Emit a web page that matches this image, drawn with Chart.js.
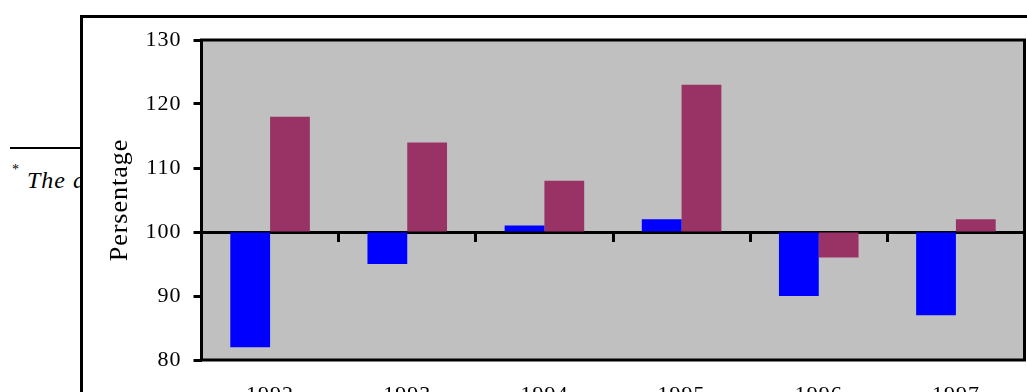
<!DOCTYPE html>
<html>
<head>
<meta charset="utf-8">
<script src="https://cdn.jsdelivr.net/npm/chart.js@4/dist/chart.umd.min.js"></script>
<style>
  html, body { margin: 0; padding: 0; background: #fff; width: 1027px; height: 392px; overflow: hidden; }
  #note-rule { position: absolute; left: 10px; top: 147px; width: 72px; height: 2px; background: #000; }
  #note-mark { position: absolute; left: 12px; top: 163px; font: 14px "Liberation Serif", serif; line-height: 14px; }
  #note-text { position: absolute; left: 27px; top: 168px; font: italic 24px "Liberation Serif", serif; line-height: 24px; letter-spacing: 1px; white-space: nowrap; }
  #frame { position: absolute; left: 80px; top: 15px; width: 1000px; height: 400px;
           border-left: 3px solid #000; border-top: 3px solid #000; background: #fff; z-index: 2; }
  #chart { position: absolute; left: 0; top: 0; }
</style>
</head>
<body>
<div id="note-rule"></div>
<div id="note-mark">*</div>
<div id="note-text">The data</div>
<div id="frame"><canvas id="chart" width="944" height="374"></canvas></div>
<script>
// Yearly values, drawn as bars that start from the 100 reference level
const categories = ['1992', '1993', '1994', '1995', '1996', '1997'];
const seriesA = [82, 95, 101, 102, 90, 87];
const seriesB = [118, 114, 108, 123, 96, 102];
const yTicks = [80, 90, 100, 110, 120, 130];
const baseLine = 100;

const serif = '"Liberation Serif", "Times New Roman", serif';

// Grey plot background and the black box around it
const plotFrame = {
  id: 'plotFrame',
  beforeDraw(chart) {
    const { ctx, chartArea: a } = chart;
    ctx.letterSpacing = '1px';
    ctx.save();
    ctx.fillStyle = '#C0C0C0';
    ctx.fillRect(a.left, a.top, a.right - a.left, a.bottom - a.top);
    ctx.restore();
  },
  afterDraw(chart) {
    const { ctx, chartArea: a } = chart;
    ctx.save();
    ctx.strokeStyle = '#000';
    ctx.lineWidth = 3;
    ctx.strokeRect(a.left, a.top, a.right - a.left, a.bottom - a.top);
    ctx.restore();
  }
};

new Chart(document.getElementById('chart'), {
  type: 'bar',
  data: {
    labels: categories,
    datasets: [
      { label: 'Series 1', data: seriesA, base: baseLine, backgroundColor: '#0000FF', borderWidth: 0 },
      { label: 'Series 2', data: seriesB, base: baseLine, backgroundColor: '#993366', borderWidth: 0 }
    ]
  },
  options: {
    responsive: false,
    devicePixelRatio: 1,
    animation: false,
    categoryPercentage: 0.58,
    barPercentage: 1.0,
    layout: { padding: { top: 22, right: 2.5, left: 0, bottom: 0 } },
    plugins: { legend: { display: false }, tooltip: { enabled: false } },
    scales: {
      x: {
        type: 'category',
        offset: true,
        grid: { display: false, drawTicks: false },
        border: { display: false },
        ticks: { color: '#000', font: { family: serif, size: 22 }, padding: 22, maxRotation: 0, autoSkip: false },
        afterFit(s) { s.height = 32; s.paddingLeft = 0; s.paddingRight = 0; }
      },
      // axis line crossing at 100, with category tick marks
      x2: {
        type: 'category',
        labels: categories,
        position: { y: baseLine },
        offset: true,
        z: 1,
        grid: { offset: true, drawOnChartArea: false, drawTicks: true, tickLength: 8, tickWidth: 3, color: '#000' },
        border: { display: true, color: '#000', width: 3 },
        ticks: { display: false }
      },
      y: {
        min: yTicks[0],
        max: yTicks[yTicks.length - 1],
        afterBuildTicks(s) { s.ticks = yTicks.map(v => ({ value: v })); },
        grid: { drawOnChartArea: false, drawTicks: true, tickLength: 8, tickWidth: 3, color: '#000' },
        border: { display: false },
        ticks: { color: '#000', font: { family: serif, size: 22 }, padding: 12 },
        title: { display: true, text: 'Persentage', color: '#000', font: { family: serif, size: 26 }, padding: { top: 22, bottom: 0 } },
        afterFit(s) { s.width = 118.5; s.paddingTop = 0; s.paddingBottom = 0; }
      }
    }
  },
  plugins: [plotFrame]
});
</script>
</body>
</html>
